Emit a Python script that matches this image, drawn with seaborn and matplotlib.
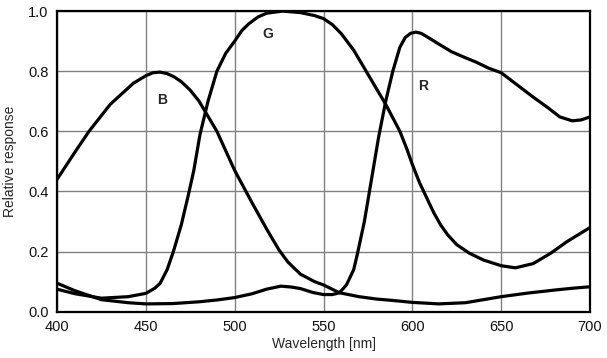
import numpy as np
import pandas as pd
import matplotlib
matplotlib.use("Agg")
import matplotlib.pyplot as plt
import seaborn as sns

# ---- data ----
b_wl = [400, 410, 418, 430, 443, 450, 454, 458, 462, 466, 470, 475, 480, 490, 500,
        510, 518, 525, 530, 537, 545, 550, 559, 570, 580, 588, 600, 615, 630, 640,
        650, 665, 680, 690, 700]
b_val = [0.44, 0.53, 0.60, 0.69, 0.76, 0.785, 0.795, 0.797, 0.792, 0.781, 0.765,
         0.737, 0.70, 0.60, 0.47, 0.36, 0.275, 0.205, 0.165, 0.125, 0.10, 0.089,
         0.063, 0.05, 0.042, 0.038, 0.031, 0.026, 0.03, 0.04, 0.05, 0.062, 0.072,
         0.078, 0.083]

g_wl = [400, 410, 425, 440, 450, 455, 458, 462, 465.5, 470, 474, 477, 480.5, 485,
        490, 495, 500, 504, 508, 513, 518, 527, 537, 545, 550, 555, 560, 567, 574,
        580, 585, 589, 593, 597, 600, 604, 608, 612, 616, 620, 625, 632, 640, 650,
        658, 668, 678, 687, 700]
g_val = [0.075, 0.06, 0.045, 0.05, 0.061, 0.078, 0.094, 0.14, 0.20, 0.29, 0.39,
         0.47, 0.59, 0.70, 0.80, 0.86, 0.90, 0.935, 0.958, 0.98, 0.993, 1.0, 0.995,
         0.985, 0.975, 0.955, 0.925, 0.87, 0.80, 0.74, 0.69, 0.645, 0.60, 0.54,
         0.49, 0.43, 0.38, 0.33, 0.288, 0.255, 0.223, 0.195, 0.172, 0.153, 0.146,
         0.16, 0.195, 0.233, 0.28]

r_wl = [400, 410, 425, 440, 450, 465, 480, 490, 500, 510, 518, 526, 532, 537, 544,
        550, 555, 559, 563, 567, 569, 573, 577, 581, 585, 589, 593, 596, 599, 602,
        605, 609, 615, 622, 629, 636, 643, 650, 660, 668, 676, 683, 690, 695, 700]
r_val = [0.095, 0.07, 0.04, 0.03, 0.026, 0.027, 0.033, 0.039, 0.047, 0.06, 0.075,
         0.085, 0.082, 0.077, 0.064, 0.057, 0.057, 0.063, 0.09, 0.14, 0.19, 0.30,
         0.44, 0.58, 0.70, 0.80, 0.88, 0.912, 0.926, 0.93, 0.926, 0.912, 0.89,
         0.865, 0.847, 0.83, 0.81, 0.795, 0.75, 0.714, 0.68, 0.648, 0.635, 0.638,
         0.648]

x_ticks = [400, 450, 500, 550, 600, 650, 700]
y_ticks = [0.0, 0.2, 0.4, 0.6, 0.8, 1.0]
y_tick_labels = ["0.0", "0.2", "0.4", "0.6", "0.8", "1.0"]

df = pd.concat([
    pd.DataFrame({"wl": b_wl, "val": b_val, "ch": "B"}),
    pd.DataFrame({"wl": g_wl, "val": g_val, "ch": "G"}),
    pd.DataFrame({"wl": r_wl, "val": r_val, "ch": "R"}),
], ignore_index=True)

sns.set_style("white")
plt.rcParams["font.family"] = ["Liberation Sans", "DejaVu Sans"]

fig = plt.figure(figsize=(6.07, 3.58), dpi=100)
ax = fig.add_axes([0.0939, 0.1293, 0.8781, 0.8397])

sns.lineplot(data=df, x="wl", y="val", hue="ch",
             palette={"B": "black", "G": "black", "R": "black"},
             linewidth=2.3, legend=False, ax=ax, estimator=None, sort=True,
             solid_joinstyle="round", solid_capstyle="round")

ax.set_xlim(400, 700)
ax.set_ylim(0, 1.0)
ax.set_xticks(x_ticks)
ax.set_yticks(y_ticks)
ax.set_yticklabels(y_tick_labels)
ax.grid(True, color="#808080", linewidth=1.0)
ax.set_axisbelow(True)
ax.tick_params(axis="both", length=0, labelsize=10.5, pad=6, colors="#111111")
for s in ax.spines.values():
    s.set_color("black")
    s.set_linewidth(1.6)

ax.set_xlabel("Wavelength [nm]", fontsize=10, labelpad=2)
ax.set_ylabel("Relative response", fontsize=10, labelpad=8)

ax.text(459, 0.705, "B", fontsize=10, fontweight="bold", ha="center", va="center")
ax.text(518.5, 0.925, "G", fontsize=10, fontweight="bold", ha="center", va="center")
ax.text(606, 0.75, "R", fontsize=10, fontweight="bold", ha="center", va="center")

fig.savefig("out.png", dpi=100)
